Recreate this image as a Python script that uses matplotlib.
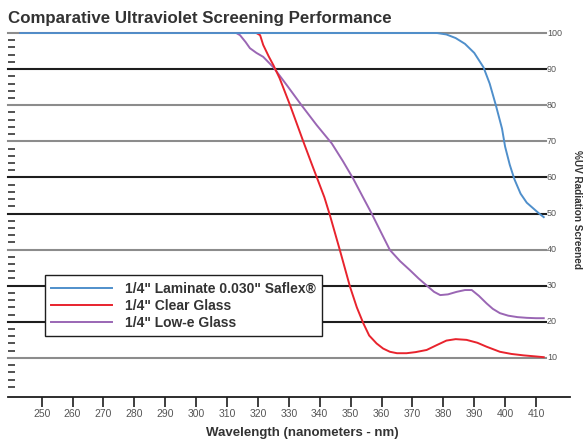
import matplotlib
matplotlib.use("Agg")
import matplotlib.pyplot as plt
from matplotlib import font_manager

# narrow face if there is one, otherwise plain Liberation Sans
names = {f.name for f in font_manager.fontManager.ttflist}
main_font = 'Liberation Sans Narrow' if 'Liberation Sans Narrow' in names else 'Liberation Sans'
plt.rcParams['font.family'] = [main_font, 'DejaVu Sans']

# wavelength (nm) / % UV screened
lam_lam = [243, 300, 350, 378, 381, 384, 387, 390, 393, 395, 397, 399, 400, 401.5, 403, 405, 407, 409, 411, 412.5]
lam_uv = [100, 100, 100, 100, 99.6, 98.6, 97, 94.5, 90.5, 86, 80, 73.5, 68.5, 63.5, 59.5, 55.5, 53, 51.5, 50, 49]

clr_lam = [243, 300, 319.5, 320.7, 321.7, 323.5, 325, 327, 330.4, 334.7, 337.5, 339.5, 341.5, 343.3, 346.5, 349.8,
           352, 354.1, 356, 358.4, 360.5, 362.7, 365, 368.1, 371, 374.6, 378, 381, 384, 387.5, 391, 394, 398.3,
           402, 406, 410, 412.5]
clr_uv = [100, 100, 100, 99.4, 96.7, 93.5, 91.1, 87.5, 80, 69.9, 63.5, 59, 54.5, 49.5, 39.9, 29.7,
          24, 19.6, 16.2, 14, 12.6, 11.7, 11.3, 11.3, 11.6, 12.2, 13.6, 14.8, 15.2, 15, 14.2, 13.1, 11.7,
          11.1, 10.7, 10.4, 10.2]

lowe_lam = [243, 300, 313, 314.2, 316, 317.4, 319.5, 321.7, 325, 329.3, 334.1, 339, 343.9, 347.5, 350.8, 354,
            356.8, 360, 362.7, 366, 369.2, 372, 375.1, 377, 379, 381.5, 384.3, 387, 389.2, 391.5, 394, 396, 398.3,
            401, 404, 407, 410, 412.5]
lowe_uv = [100, 100, 100, 99.4, 97.5, 95.8, 94.5, 93.4, 90.5, 85.6, 80, 74.5, 69.4, 64.5, 59.7, 54.5,
           50, 44.5, 39.9, 36.8, 34.3, 32, 29.7, 28.3, 27.4, 27.6, 28.3, 28.8, 28.8, 27.2, 25.1, 23.6, 22.4,
           21.7, 21.3, 21.1, 21, 21]

series = [
    ("1/4\" Laminate 0.030\" Saflex\u00ae", lam_lam, lam_uv, '#4f8fcb'),
    ("1/4\" Clear Glass", clr_lam, clr_uv, '#e8232d'),
    ("1/4\" Low-e Glass", lowe_lam, lowe_uv, '#9a66b4'),
]

grid_levels = [100, 90, 80, 70, 60, 50, 40, 30, 20, 10]
grid_colors = ['#8c8c8c', '#1e1e1e', '#8c8c8c', '#8c8c8c', '#1e1e1e', '#1e1e1e', '#8c8c8c', '#1e1e1e', '#1e1e1e', '#8c8c8c']
xticks = list(range(250, 411, 10))

fig = plt.figure(figsize=(5.88, 4.47), dpi=100)
ax = fig.add_axes([0.0136, 0.1121, 0.9558, 0.8221])
ax.set_xlim(239.1, 421)
ax.set_ylim(-0.8, 101)

for lev, c in zip(grid_levels, grid_colors):
    ax.plot([239.1, 413.2], [lev, lev], color=c, lw=1.5, zorder=1, clip_on=False)
    ax.text(413.5, lev, str(lev), fontsize=6.5, color='#555555', va='center', ha='left')

handles = []
for name, xs, ys, col in reversed(series):
    ln, = ax.plot(xs, ys, color=col, lw=1.4, zorder=3, clip_on=False, label=name)
    handles.append(ln)
handles = handles[::-1]

for s in ['top', 'right', 'left']:
    ax.spines[s].set_visible(False)
ax.spines['bottom'].set_color('#1e1e1e')
ax.spines['bottom'].set_linewidth(1.3)

ax.set_xticks(xticks)
ax.set_xticklabels([str(t) for t in xticks], fontsize=7.5, color='#555555')
ax.tick_params(axis='x', direction='out', length=7, width=1.2, color='#1e1e1e', pad=1.5)

ax.set_yticks([])
ax.set_yticks([v for v in range(2, 100, 2) if v % 10 != 0], minor=True)
ax.tick_params(axis='y', which='minor', direction='in', length=5, width=1.3, color='#444444')

leg = ax.legend(handles=handles, loc='lower left', bbox_to_anchor=(0.0658, 0.166), borderaxespad=0,
                fancybox=False, framealpha=1, edgecolor='#1e1e1e', handlelength=4.4, handletextpad=0.9,
                labelspacing=0.22, borderpad=0.45, prop={'weight': 'bold', 'size': 10})
leg.get_frame().set_linewidth(1.0)
leg.set_zorder(5)
for t in leg.get_texts():
    t.set_color('#333333')

fig.text(8 / 588, 0.949, "Comparative Ultraviolet Screening Performance", fontsize=12.2, fontweight='bold',
         color='#333333', ha='left', va='baseline')
fig.text(302 / 588, 0.017, "Wavelength (nanometers - nm)", fontsize=9.5, fontweight='bold',
         color='#333333', ha='center', va='bottom')
fig.text(577 / 588, 1 - 210 / 447, "%UV Radiation Screened", fontsize=7.2, fontweight='bold',
         color='#333333', ha='center', va='center', rotation=270)

fig.savefig("out.png", dpi=100)
